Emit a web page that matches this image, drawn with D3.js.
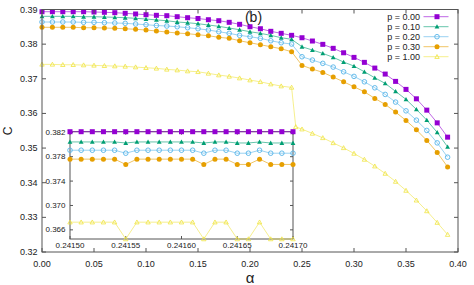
<!DOCTYPE html>
<html>
<head>
<meta charset="utf-8">
<script src="https://cdn.jsdelivr.net/npm/d3@7"></script>
<style>
  body { margin: 0; background: #fff; }
  svg { display: block; font-family: "Liberation Sans", Arial, sans-serif; }
</style>
</head>
<body>
<svg id="chart" width="474" height="285"></svg>
<script>
// main panel data: alpha on x, C on y, one array per p value
let alphaMain = [0.00, 0.01, 0.02, 0.03, 0.04, 0.05, 0.06, 0.07, 0.08, 0.09,
    0.10, 0.11, 0.12, 0.13, 0.14, 0.15, 0.16, 0.17, 0.18, 0.19,
    0.20, 0.21, 0.22, 0.23, 0.24, 0.25, 0.26, 0.27, 0.28, 0.29,
    0.30, 0.31, 0.32, 0.33, 0.34, 0.35, 0.36, 0.37, 0.38, 0.39];
// p = 1.00 has one extra point right after the jump
let alphaP100 = [0.00, 0.01, 0.02, 0.03, 0.04, 0.05, 0.06, 0.07, 0.08, 0.09,
    0.10, 0.11, 0.12, 0.13, 0.14, 0.15, 0.16, 0.17, 0.18, 0.19,
    0.20, 0.21, 0.22, 0.23, 0.24, 0.244, 0.25, 0.26, 0.27, 0.28, 0.29,
    0.30, 0.31, 0.32, 0.33, 0.34, 0.35, 0.36, 0.37, 0.38, 0.39];

let cP000 = [0.38936, 0.38936, 0.38936, 0.38936, 0.38936, 0.38928, 0.38919, 0.38908, 0.38890, 0.38870,
    0.38850, 0.38832, 0.38821, 0.38792, 0.38763, 0.38740, 0.38705, 0.38676, 0.38630, 0.38572,
    0.38503, 0.38445, 0.38370, 0.38312, 0.38254, 0.38185, 0.38090, 0.37994, 0.37879, 0.37751,
    0.37618, 0.37474, 0.37309, 0.37136, 0.36925, 0.36694, 0.36422, 0.36095, 0.35728, 0.35315];
let cP010 = [0.38803, 0.38803, 0.38803, 0.38803, 0.38792, 0.38792, 0.38783, 0.38775, 0.38763, 0.38746,
    0.38725, 0.38700, 0.38676, 0.38639, 0.38618, 0.38590, 0.38552, 0.38514, 0.38465, 0.38416,
    0.38358, 0.38312, 0.38254, 0.38185, 0.38139, 0.37925, 0.37830, 0.37734, 0.37619, 0.37483,
    0.37367, 0.37202, 0.37029, 0.36867, 0.36636, 0.36405, 0.36116, 0.35806, 0.35451, 0.35035];
let cP020 = [0.38639, 0.38639, 0.38639, 0.38639, 0.38630, 0.38630, 0.38618, 0.38610, 0.38601, 0.38581,
    0.38561, 0.38538, 0.38523, 0.38503, 0.38474, 0.38445, 0.38408, 0.38358, 0.38312, 0.38254,
    0.38214, 0.38168, 0.38098, 0.38040, 0.38003, 0.37636, 0.37540, 0.37445, 0.37338, 0.37202,
    0.37069, 0.36913, 0.36740, 0.36549, 0.36327, 0.36075, 0.35806, 0.35509, 0.35150, 0.34737];
let cP030 = [0.38486, 0.38486, 0.38486, 0.38486, 0.38474, 0.38474, 0.38465, 0.38457, 0.38445, 0.38428,
    0.38408, 0.38379, 0.38350, 0.38321, 0.38301, 0.38272, 0.38243, 0.38197, 0.38168, 0.38098,
    0.38040, 0.37983, 0.37925, 0.37867, 0.37780, 0.37387, 0.37280, 0.37185, 0.37049, 0.36913,
    0.36769, 0.36624, 0.36434, 0.36260, 0.36038, 0.35798, 0.35526, 0.35220, 0.34873, 0.34457];
let cP100 = [0.37416, 0.37416, 0.37405, 0.37405, 0.37396, 0.37387, 0.37376, 0.37367, 0.37358, 0.37338,
    0.37318, 0.37301, 0.37272, 0.37251, 0.37223, 0.37202, 0.37156, 0.37107, 0.37069, 0.37020,
    0.36962, 0.36913, 0.36847, 0.36789, 0.36751, 0.35613, 0.35546, 0.35422, 0.35295, 0.35150, 0.35006,
    0.34844, 0.34671, 0.34477, 0.34266, 0.34035, 0.33775, 0.33494, 0.33185, 0.32850, 0.32503];

// inset: zoom on the jump
let alphaInset = [0.24150, 0.24151, 0.24152, 0.24153, 0.24154, 0.24155, 0.24156, 0.24157, 0.24158, 0.24159,
    0.24160, 0.24161, 0.24162, 0.24163, 0.24164, 0.24165, 0.24166, 0.24167, 0.24168, 0.24169, 0.24170];
let inP000 = [0.3821, 0.3821, 0.3821, 0.3821, 0.3821, 0.3821, 0.3821, 0.3821, 0.3821, 0.3821,
    0.3821, 0.3821, 0.3821, 0.3821, 0.3821, 0.3821, 0.3821, 0.3821, 0.3821, 0.3821, 0.3821];
let inP010 = [0.38042, 0.38042, 0.38042, 0.38042, 0.38042, 0.38025, 0.38042, 0.38042, 0.38042, 0.38042,
    0.38042, 0.38042, 0.38025, 0.38042, 0.38042, 0.38025, 0.38025, 0.38042, 0.38025, 0.38025, 0.38025];
let inP020 = [0.37906, 0.37906, 0.37906, 0.37906, 0.37906, 0.37857, 0.37906, 0.37906, 0.37906, 0.37906,
    0.37906, 0.37906, 0.37857, 0.37906, 0.37906, 0.37857, 0.37857, 0.37906, 0.37857, 0.37857, 0.37857];
let inP030 = [0.3776, 0.3776, 0.3776, 0.3776, 0.3776, 0.37673, 0.3776, 0.3776, 0.3776, 0.3776,
    0.3776, 0.3776, 0.37673, 0.3776, 0.3776, 0.37673, 0.37673, 0.3776, 0.37673, 0.37673, 0.37673];
let inP100 = [0.36726, 0.36726, 0.36726, 0.36726, 0.36726, 0.3645, 0.36726, 0.36726, 0.36726, 0.36726,
    0.36726, 0.36726, 0.3645, 0.36726, 0.36726, 0.3645, 0.3645, 0.36726, 0.3645, 0.3645, 0.3645];

let legendLabels = ["p = 0.00", "p = 0.10", "p = 0.20", "p = 0.30", "p = 1.00"];
let xTicksMain = [0.00, 0.05, 0.10, 0.15, 0.20, 0.25, 0.30, 0.35, 0.40];
let yTicksMain = [0.32, 0.33, 0.34, 0.35, 0.36, 0.37, 0.38, 0.39];
let xTicksInset = [0.24150, 0.24155, 0.24160, 0.24165, 0.24170];
let yTicksInset = [0.366, 0.370, 0.374, 0.378, 0.382];

// styles per series (gnuplot default colours and point types)
let colors = ["#9400d3", "#009e73", "#56b4e9", "#e69f00", "#f0e442"];
let shapes = ["squareF", "triF", "circO", "circF", "triO"];

let svg = d3.select("#chart");
let frameColor = "#555";
let textColor = "#222";

function zipSeries(xs, ys) {
    let out = [];
    for (let i = 0; i < xs.length; i++) out.push({a: xs[i], c: ys[i]});
    return out;
}

function drawMarker(g, shape, color, x, y) {
    if (shape == "squareF") {
        g.append("rect").attr("x", x - 2.5).attr("y", y - 2.5)
            .attr("width", 5).attr("height", 5).attr("fill", color);
    } else if (shape == "triF") {
        let s = 2.4;
        let pts = [[x, y - s], [x - s, y + s * 0.8], [x + s, y + s * 0.8]];
        g.append("polygon").attr("points", pts.map(p => p.join(",")).join(" "))
            .attr("fill", color);
    } else if (shape == "triO") {
        let s = 2.2;
        let pts = [[x, y - s], [x - s, y + s * 0.8], [x + s, y + s * 0.8]];
        g.append("polygon").attr("points", pts.map(p => p.join(",")).join(" "))
            .attr("fill", "none").attr("stroke", color).attr("stroke-width", 0.8);
    } else if (shape == "circO") {
        g.append("circle").attr("cx", x).attr("cy", y).attr("r", 2.3)
            .attr("fill", "none").attr("stroke", color).attr("stroke-width", 0.9);
    } else {
        g.append("circle").attr("cx", x).attr("cy", y).attr("r", 2.5).attr("fill", color);
    }
}

function drawSeries(g, data, xS, yS, color, shape) {
    let line = d3.line().x(d => xS(d.a)).y(d => yS(d.c));
    g.append("path").datum(data)
        .attr("d", line).attr("fill", "none")
        .attr("stroke", color).attr("stroke-width", 1).attr("stroke-opacity", 0.6);
    data.forEach(d => drawMarker(g, shape, color, xS(d.a), yS(d.c)));
}

// ---------- main panel ----------
let xMain = d3.scaleLinear([0, 0.4], [42, 458]);
let yMain = d3.scaleLinear([0.32, 0.39], [252, 9.5]);

let mainData = [
    zipSeries(alphaMain, cP000),
    zipSeries(alphaMain, cP010),
    zipSeries(alphaMain, cP020),
    zipSeries(alphaMain, cP030),
    zipSeries(alphaP100, cP100)
];

let gMain = svg.append("g");
for (let i = 0; i < mainData.length; i++) {
    drawSeries(gMain, mainData[i], xMain, yMain, colors[i], shapes[i]);
}

function drawFrame(xS, yS, xTicks, yTicks, xFmt, yFmt, tickLen, fontSize, xLabelDy, yLabelDx) {
    let g = svg.append("g");
    let [x0, x1] = xS.range();
    let [y0, y1] = yS.range();
    g.append("rect").attr("x", x0).attr("y", y1).attr("width", x1 - x0).attr("height", y0 - y1)
        .attr("fill", "none").attr("stroke", frameColor).attr("stroke-width", 1);
    xTicks.forEach(t => {
        let x = xS(t);
        g.append("line").attr("x1", x).attr("x2", x).attr("y1", y0).attr("y2", y0 - tickLen)
            .attr("stroke", frameColor);
        g.append("line").attr("x1", x).attr("x2", x).attr("y1", y1).attr("y2", y1 + tickLen)
            .attr("stroke", frameColor);
        g.append("text").attr("x", x).attr("y", y0 + xLabelDy)
            .attr("text-anchor", "middle").attr("dominant-baseline", "central")
            .attr("font-size", fontSize).attr("fill", textColor).text(xFmt(t));
    });
    yTicks.forEach(t => {
        let y = yS(t);
        g.append("line").attr("x1", x0).attr("x2", x0 + tickLen).attr("y1", y).attr("y2", y)
            .attr("stroke", frameColor);
        g.append("line").attr("x1", x1).attr("x2", x1 - tickLen).attr("y1", y).attr("y2", y)
            .attr("stroke", frameColor);
        g.append("text").attr("x", x0 - yLabelDx).attr("y", y)
            .attr("text-anchor", "end").attr("dominant-baseline", "central")
            .attr("font-size", fontSize).attr("fill", textColor).text(yFmt(t));
    });
}

drawFrame(xMain, yMain, xTicksMain, yTicksMain, d3.format(".2f"), d3.format(".2f"), 4, 9, 11.5, 4.5);

// axis titles and panel tag
svg.append("text").attr("x", 250).attr("y", 277.5)
    .attr("text-anchor", "middle").attr("dominant-baseline", "central")
    .attr("font-size", 15).attr("fill", textColor).text("α");
svg.append("text").attr("transform", "translate(8,131) rotate(-90)")
    .attr("text-anchor", "middle").attr("dominant-baseline", "central")
    .attr("font-size", 12).attr("fill", textColor).text("C");
svg.append("text").attr("x", 253.5).attr("y", 17)
    .attr("text-anchor", "middle").attr("dominant-baseline", "central")
    .attr("font-size", 14).attr("fill", textColor).text("(b)");

// legend
let gLeg = svg.append("g");
for (let i = 0; i < legendLabels.length; i++) {
    let y = 16.7 + i * 10;
    gLeg.append("text").attr("x", 420).attr("y", y)
        .attr("text-anchor", "end").attr("dominant-baseline", "central")
        .attr("font-size", 9).attr("fill", textColor).text(legendLabels[i]);
    gLeg.append("line").attr("x1", 423.5).attr("x2", 448.5).attr("y1", y).attr("y2", y)
        .attr("stroke", colors[i]).attr("stroke-opacity", 0.6);
    drawMarker(gLeg, shapes[i], colors[i], 437, y);
}

// ---------- inset ----------
let xIn = d3.scaleLinear([0.24150, 0.24170], [70, 293]);
let yIn = d3.scaleLinear([0.3645, 0.3821], [239, 131.7]);

let insetData = [
    zipSeries(alphaInset, inP000),
    zipSeries(alphaInset, inP010),
    zipSeries(alphaInset, inP020),
    zipSeries(alphaInset, inP030),
    zipSeries(alphaInset, inP100)
];

drawFrame(xIn, yIn, xTicksInset, yTicksInset, d3.format(".5f"), d3.format(".3f"), 3, 8, 6, 4.5);

let gIn = svg.append("g");
for (let i = 0; i < insetData.length; i++) {
    drawSeries(gIn, insetData[i], xIn, yIn, colors[i], shapes[i]);
}
</script>
</body>
</html>
